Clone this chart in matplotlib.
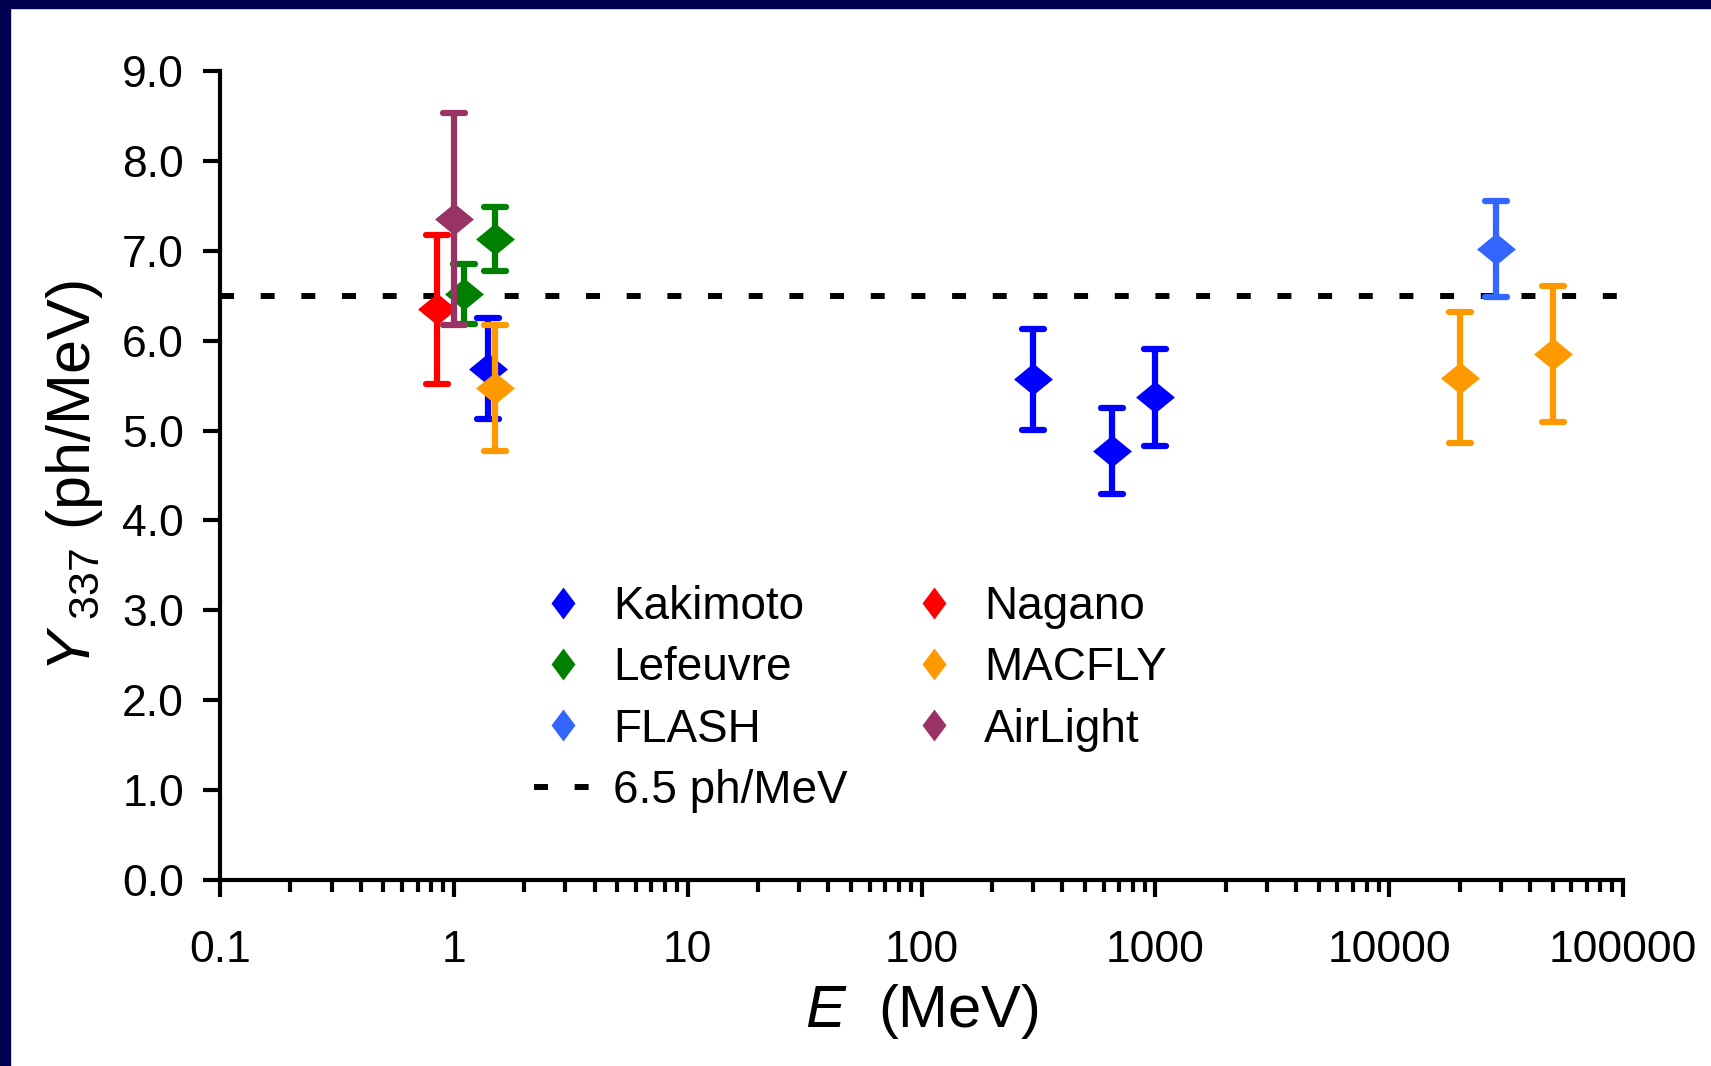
import matplotlib
matplotlib.use('Agg')
import matplotlib.pyplot as plt
from matplotlib.path import Path
from matplotlib.lines import Line2D
from matplotlib.markers import MarkerStyle
from matplotlib.patches import Rectangle

plt.rcParams['font.family'] = 'Liberation Sans'
plt.rcParams['mathtext.fontset'] = 'custom'
plt.rcParams['mathtext.rm'] = 'Liberation Sans'
plt.rcParams['mathtext.it'] = 'Liberation Sans:italic'

# data: energy (MeV), yield (ph/MeV), symmetric error
kakimoto_E = [1.4, 300, 650, 1000]
kakimoto_Y = [5.69, 5.57, 4.77, 5.37]
kakimoto_err = [0.56, 0.56, 0.48, 0.54]

nagano_E = [0.85]
nagano_Y = [6.35]
nagano_err = [0.83]

lefeuvre_E = [1.1, 1.5]
lefeuvre_Y = [6.52, 7.13]
lefeuvre_err = [0.33, 0.36]

macfly_E = [1.5, 20000, 50000]
macfly_Y = [5.47, 5.59, 5.85]
macfly_err = [0.70, 0.73, 0.76]

flash_E = [28500]
flash_Y = [7.02]
flash_err = [0.53]

airlight_E = [1.0]
airlight_Y = [7.35]
airlight_err = [1.18]

ref_value = 6.5

series = [
    ('Kakimoto', kakimoto_E, kakimoto_Y, kakimoto_err, '#0000FF'),
    ('Nagano', nagano_E, nagano_Y, nagano_err, '#FF0000'),
    ('Lefeuvre', lefeuvre_E, lefeuvre_Y, lefeuvre_err, '#008000'),
    ('MACFLY', macfly_E, macfly_Y, macfly_err, '#FF9900'),
    ('FLASH', flash_E, flash_Y, flash_err, '#3366FF'),
    ('AirLight', airlight_E, airlight_Y, airlight_err, '#993366'),
]

diamond = Path([(-1, 0), (0, 0.82), (1, 0), (0, -0.82), (-1, 0)],
               [Path.MOVETO, Path.LINETO, Path.LINETO, Path.LINETO, Path.CLOSEPOLY])
tall_diamond = Path([(-0.75, 0), (0, 1), (0.75, 0), (0, -1), (-0.75, 0)],
                    [Path.MOVETO, Path.LINETO, Path.LINETO, Path.LINETO, Path.CLOSEPOLY])

fig = plt.figure(figsize=(17.11, 10.66), dpi=100)
ax = fig.add_axes([0.1286, 0.1745, 0.82, 0.7589])

# frame on top and left of the slide
fig.patches.append(Rectangle((0, 1 - 8 / 1066), 1, 8 / 1066, transform=fig.transFigure,
                             color='#000050', zorder=0))
fig.patches.append(Rectangle((0, 0), 10 / 1711, 1, transform=fig.transFigure,
                             color='#000050', zorder=0))

ax.plot([0.1, 100000], [ref_value, ref_value], color='black', lw=4.3,
        linestyle=(0, (2.34, 4.47)), zorder=1.5)

handles = {}
for i, (name, E, Y, err, col) in enumerate(series):
    eb = ax.errorbar(E, Y, yerr=err, fmt='none', ecolor=col, elinewidth=4.5,
                     capsize=8, capthick=4.5, zorder=2 + i)
    for lc in eb[2]:
        lc.set_capstyle('round')
    for cap in eb[1]:
        cap.set_marker(MarkerStyle('_', capstyle='round'))
    ax.plot(E, Y, linestyle='none', marker=diamond, ms=28, mew=0,
            color=col, zorder=2 + i + 0.5)
    handles[name] = Line2D([], [], linestyle='none', marker=tall_diamond,
                           ms=23, mew=0, color=col)

ref_handle = Line2D([], [], color='black', lw=4.3, linestyle=(0, (2.34, 4.47)))

order = ['Kakimoto', 'Lefeuvre', 'FLASH', None, 'Nagano', 'MACFLY', 'AirLight']
leg_handles = [handles[n] if n else ref_handle for n in order]
leg_labels = [n if n else '6.5 ph/MeV' for n in order]
ax.legend(leg_handles, leg_labels, ncol=2, frameon=False, fontsize=33,
          loc='upper left', bbox_to_anchor=(0.224, 0.365), borderpad=0,
          borderaxespad=0, handlelength=1.25, handletextpad=0.47,
          columnspacing=1.25, labelspacing=0.38)

ax.set_xscale('log')
ax.set_xlim(0.1, 100000)
ax.set_ylim(0, 9)
ax.set_yticks(range(10))
ax.set_yticklabels([f'{v:.1f}' for v in range(10)])
ax.set_xticks([0.1, 1, 10, 100, 1000, 10000, 100000])
ax.set_xticklabels(['0.1', '1', '10', '100', '1000', '10000', '100000'])

for s in ['top', 'right']:
    ax.spines[s].set_visible(False)
for s in ['left', 'bottom']:
    ax.spines[s].set_linewidth(3)

ax.tick_params(axis='both', which='major', labelsize=32, width=3, length=12)
ax.tick_params(axis='x', which='major', pad=24)
ax.tick_params(axis='y', which='major', pad=14)
ax.tick_params(axis='x', which='minor', width=3, length=8.6)
ax.tick_params(axis='y', which='minor', left=False)

ax.set_xlabel(r'$E$  (MeV)', fontsize=43, labelpad=8)
ax.set_ylabel(r'$Y_{\ 337}$ (ph/MeV)', fontsize=44, labelpad=12)

fig.savefig('out.png', dpi=100)
